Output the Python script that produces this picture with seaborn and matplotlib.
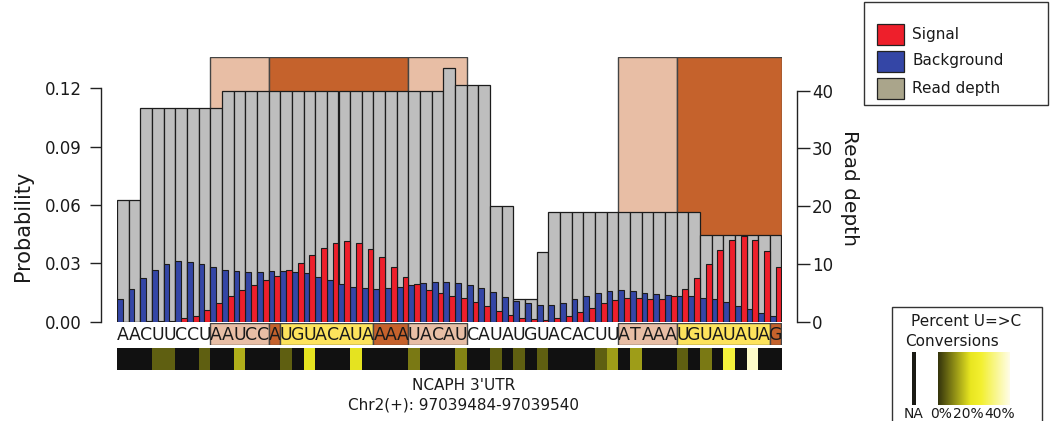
import numpy as np
import pandas as pd
import matplotlib
matplotlib.use("Agg")
import matplotlib.pyplot as plt
import seaborn as sns
from matplotlib.patches import Rectangle
from matplotlib.colors import LinearSegmentedColormap
from matplotlib.ticker import FormatStrFormatter

# ---------------- data ----------------
sequence = list("AACUUCCUAAUCCAUGUACAUAAAAUACAUCAUAUGUACACUUATAAAUGUAUAUAG")

read_depth = [21, 21, 37, 37, 37, 37, 37, 37, 37, 40,
              40, 40, 40, 40, 40, 40, 40, 40, 40, 40,
              40, 40, 40, 40, 40, 40, 40, 40, 44, 41,
              41, 41, 20, 20, 4, 4, 12, 19, 19, 19,
              19, 19, 19, 19, 19, 19, 19, 19, 19, 19,
              15, 15, 15, 15, 15, 15, 15]

background = [0.0117, 0.0170, 0.0223, 0.0268, 0.0297, 0.0311, 0.0309, 0.0297, 0.0280, 0.0268,
              0.0259, 0.0254, 0.0254, 0.0259, 0.0261, 0.0258, 0.0249, 0.0230, 0.0213, 0.0194,
              0.0180, 0.0172, 0.0168, 0.0172, 0.0179, 0.0189, 0.0197, 0.0204, 0.0206, 0.0199,
              0.0189, 0.0172, 0.0151, 0.0129, 0.0108, 0.0094, 0.0088, 0.0088, 0.0098, 0.0115,
              0.0132, 0.0148, 0.0160, 0.0161, 0.0156, 0.0149, 0.0143, 0.0137, 0.0132, 0.0130,
              0.0124, 0.0115, 0.0099, 0.0081, 0.0063, 0.0045, 0.0029]

signal = [0.0000, 0.0000, 0.0002, 0.0002, 0.0005, 0.0017, 0.0031, 0.0060, 0.0094, 0.0130,
          0.0163, 0.0189, 0.0213, 0.0235, 0.0264, 0.0302, 0.0343, 0.0380, 0.0407, 0.0415,
          0.0403, 0.0374, 0.0331, 0.0280, 0.0230, 0.0192, 0.0165, 0.0148, 0.0132, 0.0120,
          0.0103, 0.0081, 0.0057, 0.0034, 0.0021, 0.0012, 0.0009, 0.0017, 0.0031, 0.0050,
          0.0072, 0.0094, 0.0112, 0.0122, 0.0122, 0.0118, 0.0118, 0.0132, 0.0170, 0.0227,
          0.0299, 0.0369, 0.0422, 0.0441, 0.0421, 0.0362, 0.0283]

nan = np.nan
conversions = [nan, nan, nan, 5, 5, nan, nan, 5, nan, nan,
               14, nan, nan, nan, 5, nan, 20, nan, nan, nan,
               20, nan, nan, nan, nan, 8, nan, nan, nan, 9,
               nan, nan, 5, nan, 5, nan, 5, nan, nan, nan,
               nan, 5, 12, nan, 12, nan, nan, nan, 5, nan,
               8, nan, 28, nan, 42, nan, nan]

# annotated regions (start index, end index exclusive, kind)
top_start = [8, 13, 25, 43, 48]
top_end = [13, 25, 30, 48, 57]
top_kind = ["light", "dark", "light", "light", "dark"]

seq_start = [8, 13, 14, 22, 25, 43, 48, 56]
seq_end = [13, 14, 22, 25, 30, 48, 56, 57]
seq_kind = ["light", "dark", "yellow", "dark", "light", "light", "yellow", "dark"]

legend_labels = ["Signal", "Background", "Read depth"]
title_lines = ["NCAPH 3'UTR", "Chr2(+): 97039484-97039540"]

# ---------------- style ----------------
sns.set_theme(style="white")
plt.rcParams["font.family"] = ["DejaVu Sans"]

region_colors = {"light": "#e8bea5", "dark": "#c5622c", "yellow": "#fde35c"}
c_signal, c_bg, c_depth, c_depth_leg = "#ee1f2b", "#3446a6", "#bebebe", "#aaa58b"
edge = "#1c1c1c"

W_PX, H_PX = 1052, 421
fig = plt.figure(figsize=(W_PX / 100, H_PX / 100), dpi=100)

L = 117 / W_PX
Wd = (781.5 - 117) / W_PX
B = (H_PX - 321.7) / H_PX
H = (321.7 - 57) / H_PX

n = len(sequence)
pos = list(range(n))

# depth axis (drawn first, below)
ax_d = fig.add_axes([L, B, Wd, H])
ax_p = ax_d.twinx()

for s, e, k in zip(top_start, top_end, top_kind):
    ax_d.axvspan(s - 0.5, e - 0.5, ymin=0, ymax=1, facecolor=region_colors[k],
                 edgecolor="#444444", linewidth=1.0, zorder=0.5)

df_depth = pd.DataFrame({"pos": pos, "depth": read_depth})
sns.barplot(data=df_depth, x="pos", y="depth", ax=ax_d, color=c_depth,
            saturation=1, width=1.0, edgecolor=edge, linewidth=0.9,
            errorbar=None, zorder=2)

df_prob = pd.DataFrame({
    "pos": pos + pos,
    "prob": background + signal,
    "series": ["Background"] * n + ["Signal"] * n,
})
sns.barplot(data=df_prob, x="pos", y="prob", hue="series",
            hue_order=["Background", "Signal"],
            palette={"Background": c_bg, "Signal": c_signal},
            saturation=1, width=1.0, edgecolor=edge, linewidth=0.8,
            errorbar=None, legend=False, ax=ax_p)

for a in (ax_d, ax_p):
    a.set_xlim(-0.5, n - 0.5)
    a.set_xlabel("")
    a.tick_params(axis="x", bottom=False, top=False, labelbottom=False, labeltop=False)
    for sp in a.spines.values():
        sp.set_visible(False)
ax_p.patch.set_visible(False)

ax_d.set_ylim(0, 40 * 264.7 / 231.0)
ax_p.set_ylim(0, 0.12 * 264.7 / 233.4)

# left: probability
ax_p.yaxis.tick_left()
ax_p.yaxis.set_label_position("left")
ax_p.spines["left"].set_visible(True)
ax_p.spines["left"].set_position(("outward", 11.5))
ax_p.spines["left"].set_bounds(0, 0.12)
ax_p.spines["left"].set_color("#222222")
ax_p.spines["left"].set_linewidth(1.0)
ax_p.set_yticks([0, 0.03, 0.06, 0.09, 0.12])
ax_p.yaxis.set_major_formatter(FormatStrFormatter("%.2f"))
ax_p.tick_params(axis="y", left=True, right=False, labelleft=True, labelright=False,
                 length=8, width=1.0, color="#222222", pad=6, labelsize=12,
                 labelcolor="#1a1a1a")
ax_p.set_ylabel("Probability", fontsize=15, color="#1a1a1a")
ax_p.yaxis.set_label_coords((33 - 117) / (781.5 - 117), (321.7 - 226) / 264.7)

# right: read depth
ax_d.yaxis.tick_right()
ax_d.yaxis.set_label_position("right")
ax_d.spines["right"].set_visible(True)
ax_d.spines["right"].set_position(("outward", 11))
ax_d.spines["right"].set_bounds(0, 40)
ax_d.spines["right"].set_color("#222222")
ax_d.spines["right"].set_linewidth(1.0)
ax_d.set_yticks([0, 10, 20, 30, 40])
ax_d.tick_params(axis="y", right=True, left=False, labelright=True, labelleft=False,
                 length=9, width=1.0, color="#222222", pad=2, labelsize=12,
                 labelcolor="#1a1a1a")
ax_d.set_ylabel("Read depth", fontsize=14.5, rotation=270, va="bottom", color="#1a1a1a")
ax_d.yaxis.set_label_coords((840 - 117) / (781.5 - 117), (321.7 - 188.5) / 264.7)

# sequence row
ax_s = fig.add_axes([L, (H_PX - 345) / H_PX, Wd, 22 / H_PX])
ax_s.set_xlim(-0.5, n - 0.5)
ax_s.set_ylim(0, 1)
ax_s.axis("off")
for s, e, k in zip(seq_start, seq_end, seq_kind):
    ax_s.axvspan(s - 0.5, e - 0.5, facecolor=region_colors[k], edgecolor="#444444",
                 linewidth=1.0, zorder=1)
for i, ch in enumerate(sequence):
    ax_s.text(i, 0.45, ch, ha="center", va="center", fontsize=12.5, color="#1a1a1a", zorder=3)

# conversions strip
cmap = LinearSegmentedColormap.from_list(
    "conv", [(0.0, "#33330c"), (0.45, "#e8e620"), (0.6, "#f3f030"), (1.0, "#fffde8")])
ax_h = fig.add_axes([L, (H_PX - 370) / H_PX, Wd, 22 / H_PX])
sns.heatmap(np.array([conversions], dtype=float), ax=ax_h, cmap=cmap, vmin=0, vmax=45,
            cbar=False, xticklabels=False, yticklabels=False)
ax_h.set_facecolor("#111111")

# bottom title
fig.text(464 / W_PX, 1 - 385 / H_PX, title_lines[0], ha="center", va="center",
         fontsize=11, color="#1a1a1a")
fig.text(464 / W_PX, 1 - 405 / H_PX, title_lines[1], ha="center", va="center",
         fontsize=11, color="#1a1a1a")

# legend (top right)
fig.patches.append(Rectangle((864 / W_PX, 1 - 105 / H_PX), (1048 - 864) / W_PX, 103 / H_PX,
                             transform=fig.transFigure, facecolor="white",
                             edgecolor="#333333", linewidth=1.0, zorder=-2))
for lab, col, yc in zip(legend_labels, [c_signal, c_bg, c_depth_leg], [34.5, 61, 88]):
    fig.patches.append(Rectangle((877 / W_PX, 1 - (yc + 10.5) / H_PX), 27 / W_PX, 21 / H_PX,
                                 transform=fig.transFigure, facecolor=col,
                                 edgecolor="#222222", linewidth=0.9))
    fig.text(912 / W_PX, 1 - yc / H_PX, lab, ha="left", va="center", fontsize=11,
             color="#1a1a1a")

# colour key (bottom right)
fig.patches.append(Rectangle((892 / W_PX, -0.05), (1042 - 892) / W_PX, (H_PX - 307) / H_PX + 0.05,
                             transform=fig.transFigure, facecolor="white",
                             edgecolor="#333333", linewidth=1.0, zorder=-2))
fig.text(966 / W_PX, 1 - 321 / H_PX, "Percent U=>C", ha="center", va="center",
         fontsize=11, color="#1a1a1a")
fig.text(952 / W_PX, 1 - 341 / H_PX, "Conversions", ha="center", va="center",
         fontsize=11, color="#1a1a1a")
fig.patches.append(Rectangle((912 / W_PX, 1 - 405 / H_PX), 4 / W_PX, 53 / H_PX,
                             transform=fig.transFigure, facecolor="#1a1a14", edgecolor="none"))
cax = fig.add_axes([938 / W_PX, 1 - 405 / H_PX, 72 / W_PX, 53 / H_PX])
cax.imshow(np.linspace(0, 45, 256).reshape(1, -1), aspect="auto", cmap=cmap, vmin=0, vmax=45)
cax.axis("off")
for lab, xc in zip(["NA", "0%", "20%", "40%"], [914, 941, 968, 1000]):
    fig.text(xc / W_PX, 1 - 414 / H_PX, lab, ha="center", va="center", fontsize=10,
             color="#1a1a1a")

fig.savefig("out.png", dpi=100)
